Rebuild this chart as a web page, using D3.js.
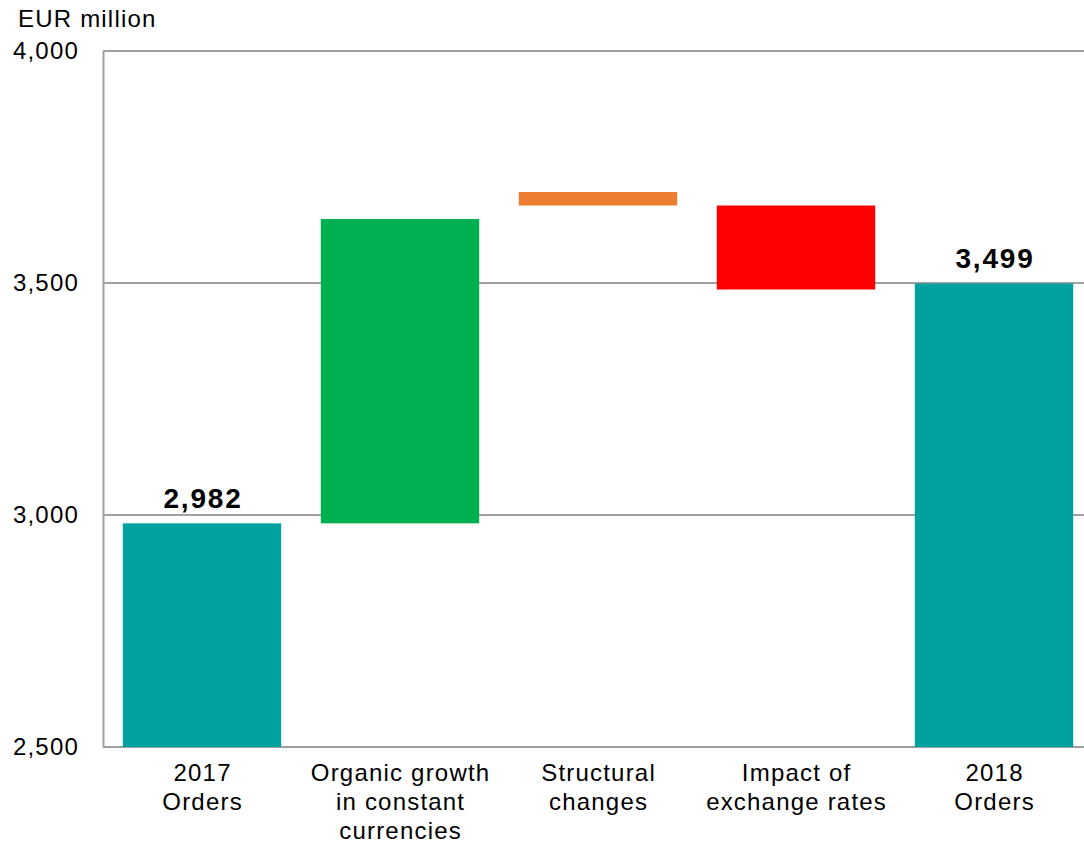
<!DOCTYPE html>
<html>
<head>
<meta charset="utf-8">
<script src="https://cdn.jsdelivr.net/npm/d3@7"></script>
<style>
  html, body { margin: 0; padding: 0; background: #fff; }
  svg { display: block; font-family: "Liberation Sans", Arial, sans-serif; }
</style>
</head>
<body>
<svg id="chart" width="1084" height="846"></svg>
<script>
// Orders bridge 2017 -> 2018, EUR million
const categories = ["2017|Orders", "Organic growth|in constant|currencies", "Structural|changes", "Impact of|exchange rates", "2018|Orders"];
const barFrom = [2500, 2982, 3667, 3667, 2500];
const barTo   = [2982, 3638, 3696, 3486, 3499];
const barKind = ["total", "increase", "structural", "decrease", "total"];
const valueLabels = ["2,982", null, null, null, "3,499"];
const yTicks = [2500, 3000, 3500, 4000];
const unitLabel = "EUR million";

const colors = {
  total: "#00A19F",
  increase: "#00B050",
  structural: "#ED7D31",
  decrease: "#FF0000"
};

const svg = d3.select("#chart");
const plot = { left: 103, right: 1093, top: 51, bottom: 747 };

const x = d3.scaleBand()
  .domain(d3.range(categories.length))
  .range([plot.left, plot.right])
  .paddingInner(0.2)
  .paddingOuter(0.1);

const y = d3.scaleLinear()
  .domain([2500, 4000])
  .range([plot.bottom, plot.top]);

// horizontal gridlines
svg.append("g")
  .selectAll("line")
  .data(yTicks)
  .join("line")
  .attr("x1", plot.left)
  .attr("x2", 1084)
  .attr("y1", d => y(d))
  .attr("y2", d => y(d))
  .attr("stroke", "#A0A0A0")
  .attr("stroke-width", 2);

// y axis
const yAxis = d3.axisLeft(y)
  .tickValues(yTicks)
  .tickFormat(d3.format(","))
  .tickSize(0)
  .tickPadding(24);

const gy = svg.append("g")
  .attr("transform", `translate(${plot.left},0)`)
  .call(yAxis);
gy.select(".domain").attr("stroke", "#A0A0A0").attr("stroke-width", 2);
gy.selectAll("text")
  .attr("font-size", 24)
  .attr("letter-spacing", "1.2px")
  .attr("fill", "#000")
  .attr("font-family", "Liberation Sans, Arial, sans-serif");

// unit label
svg.append("text")
  .attr("x", 18)
  .attr("y", 27)
  .attr("font-size", 24)
  .attr("letter-spacing", "1.2px")
  .attr("fill", "#000")
  .text(unitLabel);

// bars
svg.append("g")
  .selectAll("rect")
  .data(categories.map((c, i) => i))
  .join("rect")
  .attr("x", i => x(i))
  .attr("width", x.bandwidth())
  .attr("y", i => y(Math.max(barFrom[i], barTo[i])))
  .attr("height", i => Math.abs(y(barFrom[i]) - y(barTo[i])))
  .attr("fill", i => colors[barKind[i]]);

// value labels on totals
svg.append("g")
  .selectAll("text")
  .data(categories.map((c, i) => i).filter(i => valueLabels[i]))
  .join("text")
  .attr("x", i => x(i) + x.bandwidth() / 2 + 1)
  .attr("y", i => y(barTo[i]) - 15)
  .attr("text-anchor", "middle")
  .attr("font-size", 28)
  .attr("font-weight", "bold")
  .attr("letter-spacing", "1.8px")
  .attr("fill", "#000")
  .text(i => valueLabels[i]);

// category labels
const catG = svg.append("g")
  .selectAll("text")
  .data(categories)
  .join("text")
  .attr("x", (d, i) => x(i) + x.bandwidth() / 2 + 0.6)
  .attr("y", 781)
  .attr("text-anchor", "middle")
  .attr("font-size", 24)
  .attr("letter-spacing", "1.2px")
  .attr("fill", "#000");

catG.selectAll("tspan")
  .data(d => d.split("|"))
  .join("tspan")
  .attr("x", function () { return this.parentNode.getAttribute("x"); })
  .attr("dy", (d, j) => j === 0 ? 0 : 29)
  .text(d => d);
</script>
</body>
</html>
